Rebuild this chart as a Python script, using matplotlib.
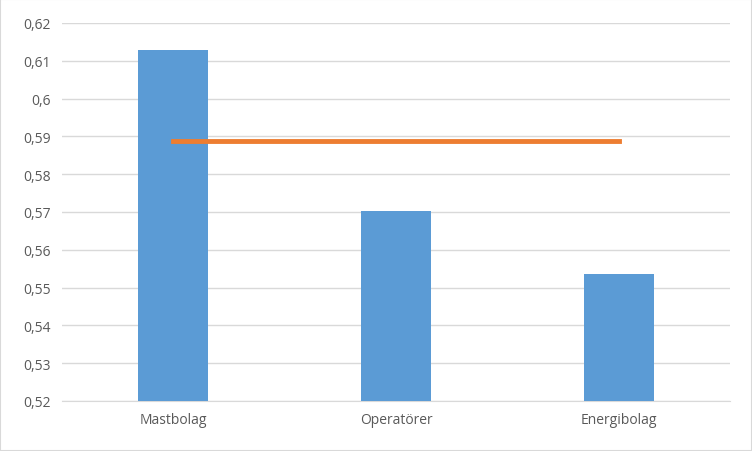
import matplotlib
matplotlib.use("Agg")
import matplotlib.pyplot as plt
from matplotlib.patches import Rectangle

categories = ["Mastbolag", "Operatörer", "Energibolag"]
values = [0.6129, 0.5702, 0.5535]
average = [0.5888, 0.5888, 0.5888]
yticks = [0.52 + 0.01 * i for i in range(11)]

plt.rcParams['font.family'] = ['Open Sans', 'DejaVu Sans']
fig = plt.figure(figsize=(7.52, 4.52), dpi=100)
ax = fig.add_axes([62/752, 50/452, 668/752, 378/452])
x = list(range(len(categories)))
ax.bar(x, values, width=0.315, color="#5B9BD5", zorder=3)
ax.plot(x, average, color="#ED7D31", linewidth=3.5, zorder=4)
ax.set_xlim(-0.5, 2.5)
ax.set_ylim(0.52, 0.62)
ax.set_yticks(yticks)
ax.set_yticklabels([f"{v:.2f}".rstrip("0").replace(".", ",") if f"{v:.2f}".endswith("0") else f"{v:.2f}".replace(".", ",") for v in yticks])
ax.set_xticks(x)
ax.set_xticklabels(categories)
ax.grid(axis="y", color="#D9D9D9", linewidth=1, zorder=0)
for s in ["top", "right", "left"]:
    ax.spines[s].set_visible(False)
ax.spines["bottom"].set_color("#D9D9D9")
ax.tick_params(length=0, labelsize=10, colors="#595959", pad=8)
fig.patches.append(Rectangle((0, 0), 1, 1, transform=fig.transFigure, fill=False, edgecolor="#D9D9D9", linewidth=1.5))
fig.savefig("out.png", dpi=100)
